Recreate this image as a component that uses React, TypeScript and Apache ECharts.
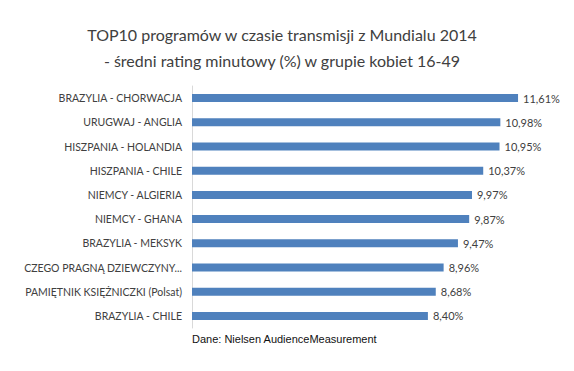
import React, { useEffect, useRef } from "react";
import * as echarts from "echarts";

const categories = [
  "BRAZYLIA - CHORWACJA",
  "URUGWAJ - ANGLIA",
  "HISZPANIA - HOLANDIA",
  "HISZPANIA - CHILE",
  "NIEMCY - ALGIERIA",
  "NIEMCY - GHANA",
  "BRAZYLIA - MEKSYK",
  "CZEGO PRAGNĄ DZIEWCZYNY...",
  "PAMIĘTNIK KSIĘŻNICZKI (Polsat)",
  "BRAZYLIA - CHILE",
];
const values = [11.61, 10.98, 10.95, 10.37, 9.97, 9.87, 9.47, 8.96, 8.68, 8.4];
const titleLines = [
  "TOP10 programów w czasie transmisji z Mundialu 2014",
  "- średni rating minutowy (%) w grupie kobiet 16-49",
];
const sourceNote = "Dane: Nielsen AudienceMeasurement";

export default function App() {
  const ref = useRef<HTMLDivElement>(null);
  useEffect(() => {
    if (!ref.current) return;
    const chart = echarts.init(ref.current, null, { renderer: "svg" });
    chart.setOption({
      animation: false,
      backgroundColor: "#ffffff",
      title: {
        text: titleLines.join("\n"),
        left: 277,
        textAlign: "center",
        top: 16,
        textStyle: {
          fontFamily: "Lato, 'Open Sans', sans-serif",
          fontSize: 16,
          fontWeight: "normal",
          color: "#404040",
          lineHeight: 26,
        },
      },
      graphic: [
        {
          type: "text",
          left: 192,
          top: 333,
          style: {
            text: sourceNote,
            fontFamily: "'Liberation Sans', Arial, sans-serif",
            fontSize: 11,
            fill: "#111111",
          },
        },
      ],
      grid: { left: 192, right: 45, top: 86, bottom: 371 - 328, containLabel: false },
      xAxis: {
        type: "value",
        min: 0,
        max: 12,
        show: false,
      },
      yAxis: {
        type: "category",
        data: categories,
        inverse: true,
        axisLine: { show: true, lineStyle: { color: "#d9d9d9", width: 1 } },
        axisTick: { show: false },
        axisLabel: {
          margin: 10,
          fontFamily: "Lato, 'Open Sans', sans-serif",
          fontSize: 10.5,
          color: "#404040",
        },
      },
      series: [
        {
          type: "bar",
          data: values,
          barWidth: 8,
          itemStyle: { color: "#4F81BD" },
          label: {
            show: true,
            position: "right",
            distance: 5,
            fontFamily: "Lato, 'Open Sans', sans-serif",
            fontSize: 11,
            color: "#404040",
            formatter: (p: any) => p.value.toFixed(2).replace(".", ",") + "%",
          },
        },
      ],
    });
    return () => chart.dispose();
  }, []);
  return <div ref={ref} style={{ width: 574, height: 371, position: "absolute", left: 0, top: 0 }} />;
}
